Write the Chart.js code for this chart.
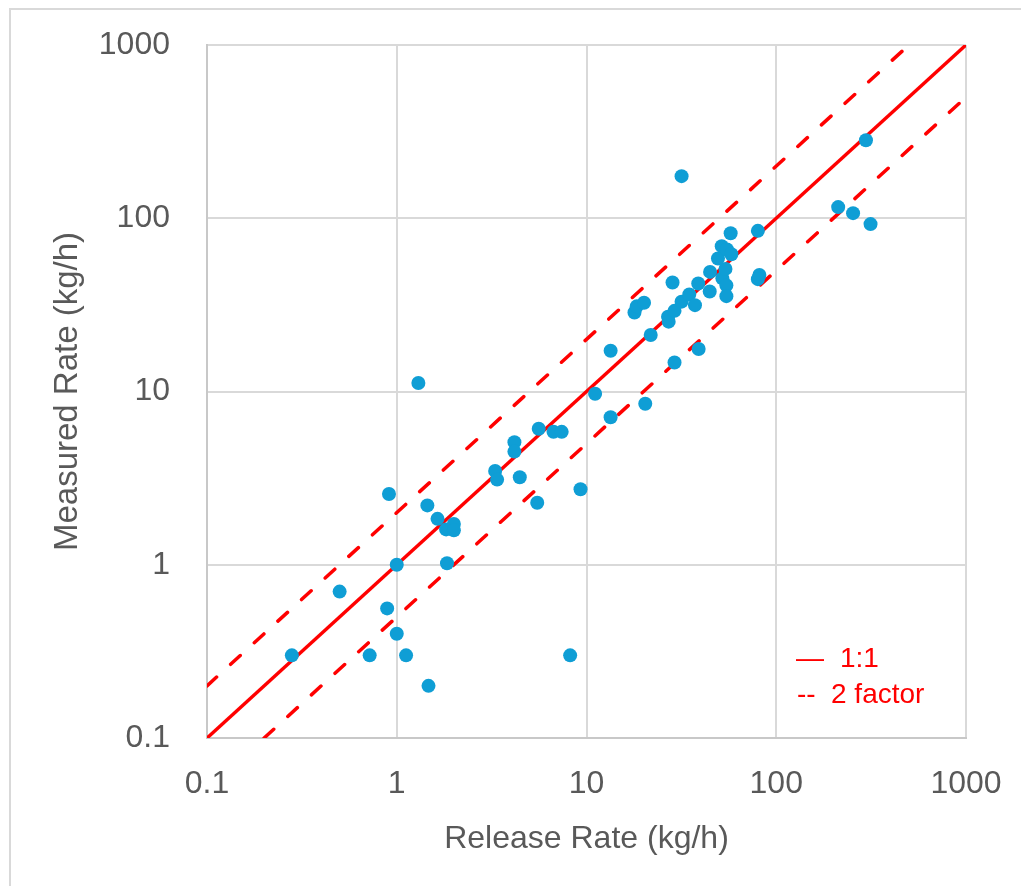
<!DOCTYPE html>
<html>
<head>
<meta charset="utf-8">
<script src="https://cdn.jsdelivr.net/npm/chart.js@4"></script>
<style>
  html, body { margin: 0; padding: 0; background: #fff; }
  canvas { display: block; }
</style>
</head>
<body>
<canvas id="myChart" width="1021" height="886"></canvas>
<script>
// release rate (x) vs measured rate (y), kg/h
const releaseRate = [0.28, 0.5, 0.72, 0.89, 0.91, 1.0, 1.0, 1.12, 1.3, 1.47, 1.45, 1.64, 1.82, 1.84, 2.0, 2.0,
  3.3, 3.38, 4.17, 4.17, 4.45, 5.6, 5.5, 6.7, 7.4, 8.2, 9.3, 11.1, 13.4, 13.4, 17.9, 18.4, 20.1, 20.4, 21.8,
  26.9, 27.1, 28.4, 29.1, 29.1, 31.7, 31.7, 34.8, 37.3, 38.8, 39, 44.6, 44.8, 49.3, 51.6, 52, 54, 54.6, 54.6,
  55, 58, 57.5, 80, 81.5, 80, 212, 254, 297, 314];
const measuredRate = [0.3, 0.7, 0.3, 0.56, 2.56, 0.4, 1.0, 0.3, 11.2, 0.2, 2.2, 1.84, 1.6, 1.02, 1.72, 1.58,
  3.48, 3.1, 5.1, 4.5, 3.2, 6.1, 2.28, 5.85, 5.85, 0.3, 2.73, 9.7, 7.1, 17.2, 28.6, 31, 32.5, 8.5, 21.2,
  27, 25.3, 42.6, 29.2, 14.7, 33, 175, 36.3, 31.5, 42, 17.6, 37.8, 49, 58.6, 69, 45, 51, 41, 35.5,
  66, 62, 82, 84.6, 47, 44.5, 116, 107, 282, 92.5];

const tickValues = [0.1, 1, 10, 100, 1000];
const tickLabels = ['0.1', '1', '10', '100', '1000'];

// reference lines
const oneToOneX = [0.1, 1000];
const oneToOneY = [0.1, 1000];
const upperX = [0.1, 500];
const upperY = [0.2, 1000];
const lowerX = [0.2, 1000];
const lowerY = [0.1, 500];

const toPoints = (xs, ys) => xs.map((x, i) => ({ x: x, y: ys[i] }));

const fontFamily = '"Liberation Sans", Arial, sans-serif';
const gray = '#595959';

const frameAndNote = {
  id: 'frameAndNote',
  beforeDraw(chart) {
    const ctx = chart.ctx;
    ctx.save();
    ctx.fillStyle = '#fff';
    ctx.fillRect(0, 0, chart.width, chart.height);
    ctx.strokeStyle = '#d9d9d9';
    ctx.lineWidth = 2;
    ctx.beginPath();
    ctx.moveTo(10, chart.height);
    ctx.lineTo(10, 9);
    ctx.lineTo(chart.width, 9);
    ctx.stroke();
    ctx.restore();
  },
  afterDraw(chart) {
    const ctx = chart.ctx;
    ctx.save();
    ctx.fillStyle = '#ff0000';
    ctx.font = '28px ' + fontFamily;
    ctx.textBaseline = 'alphabetic';
    ctx.fillText('\u2014', 796, 667);
    ctx.fillText('1:1', 840, 667);
    ctx.fillText('--', 797, 703);
    ctx.fillText('2 factor', 831, 703);
    ctx.restore();
  }
};

const ctx = document.getElementById('myChart');

new Chart(ctx, {
  type: 'scatter',
  data: {
    datasets: [
      {
        label: 'data',
        data: toPoints(releaseRate, measuredRate),
        backgroundColor: '#0F9ED5',
        borderWidth: 0,
        pointRadius: 7,
        order: 0
      },
      {
        label: '1:1',
        data: toPoints(oneToOneX, oneToOneY),
        showLine: true,
        borderColor: '#ff0000',
        borderWidth: 3.5,
        pointRadius: 0,
        order: 1
      },
      {
        label: '2x',
        data: toPoints(upperX, upperY),
        showLine: true,
        borderColor: '#ff0000',
        borderWidth: 3.5,
        borderDash: [13, 19],
        borderCapStyle: 'round',
        pointRadius: 0,
        order: 1
      },
      {
        label: '0.5x',
        data: toPoints(lowerX, lowerY),
        showLine: true,
        borderColor: '#ff0000',
        borderWidth: 3.5,
        borderDash: [13, 19],
        borderCapStyle: 'round',
        pointRadius: 0,
        order: 1
      }
    ]
  },
  options: {
    responsive: false,
    animation: false,
    layout: { autoPadding: false, padding: { left: 0, top: 45, right: 55, bottom: 0 } },
    plugins: { legend: { display: false }, tooltip: { enabled: false } },
    scales: {
      x: {
        type: 'logarithmic',
        min: 0.1,
        max: 1000,
        afterBuildTicks: scale => { scale.ticks = tickValues.map(v => ({ value: v })); },
        afterFit: scale => {
          scale.height = 148;
          scale.paddingLeft = 0;
          scale.paddingRight = 0;
        },
        grid: { color: '#d9d9d9', lineWidth: 2, drawTicks: false },
        border: { color: '#c8c8c8', width: 2 },
        ticks: {
          color: gray,
          font: { family: fontFamily, size: 32 },
          padding: 27,
          maxRotation: 0,
          autoSkip: false,
          callback: (v, i) => tickLabels[i]
        },
        title: {
          display: true,
          text: 'Release Rate (kg/h)',
          color: gray,
          font: { family: fontFamily, size: 32 },
          padding: { top: 0, bottom: 28 }
        }
      },
      y: {
        type: 'logarithmic',
        min: 0.1,
        max: 1000,
        afterBuildTicks: scale => { scale.ticks = tickValues.map(v => ({ value: v })); },
        afterFit: scale => {
          scale.width = 207;
          scale.paddingTop = 0;
          scale.paddingBottom = 0;
        },
        grid: { color: '#d9d9d9', lineWidth: 2, drawTicks: false },
        border: { color: '#c8c8c8', width: 2 },
        ticks: {
          color: gray,
          font: { family: fontFamily, size: 32 },
          padding: 37,
          autoSkip: false,
          callback: (v, i) => tickLabels[i]
        },
        title: {
          display: true,
          text: 'Measured Rate (kg/h)',
          color: gray,
          font: { family: fontFamily, size: 33 },
          padding: { top: 48, bottom: 0 }
        }
      }
    }
  },
  plugins: [frameAndNote]
});
</script>
</body>
</html>
